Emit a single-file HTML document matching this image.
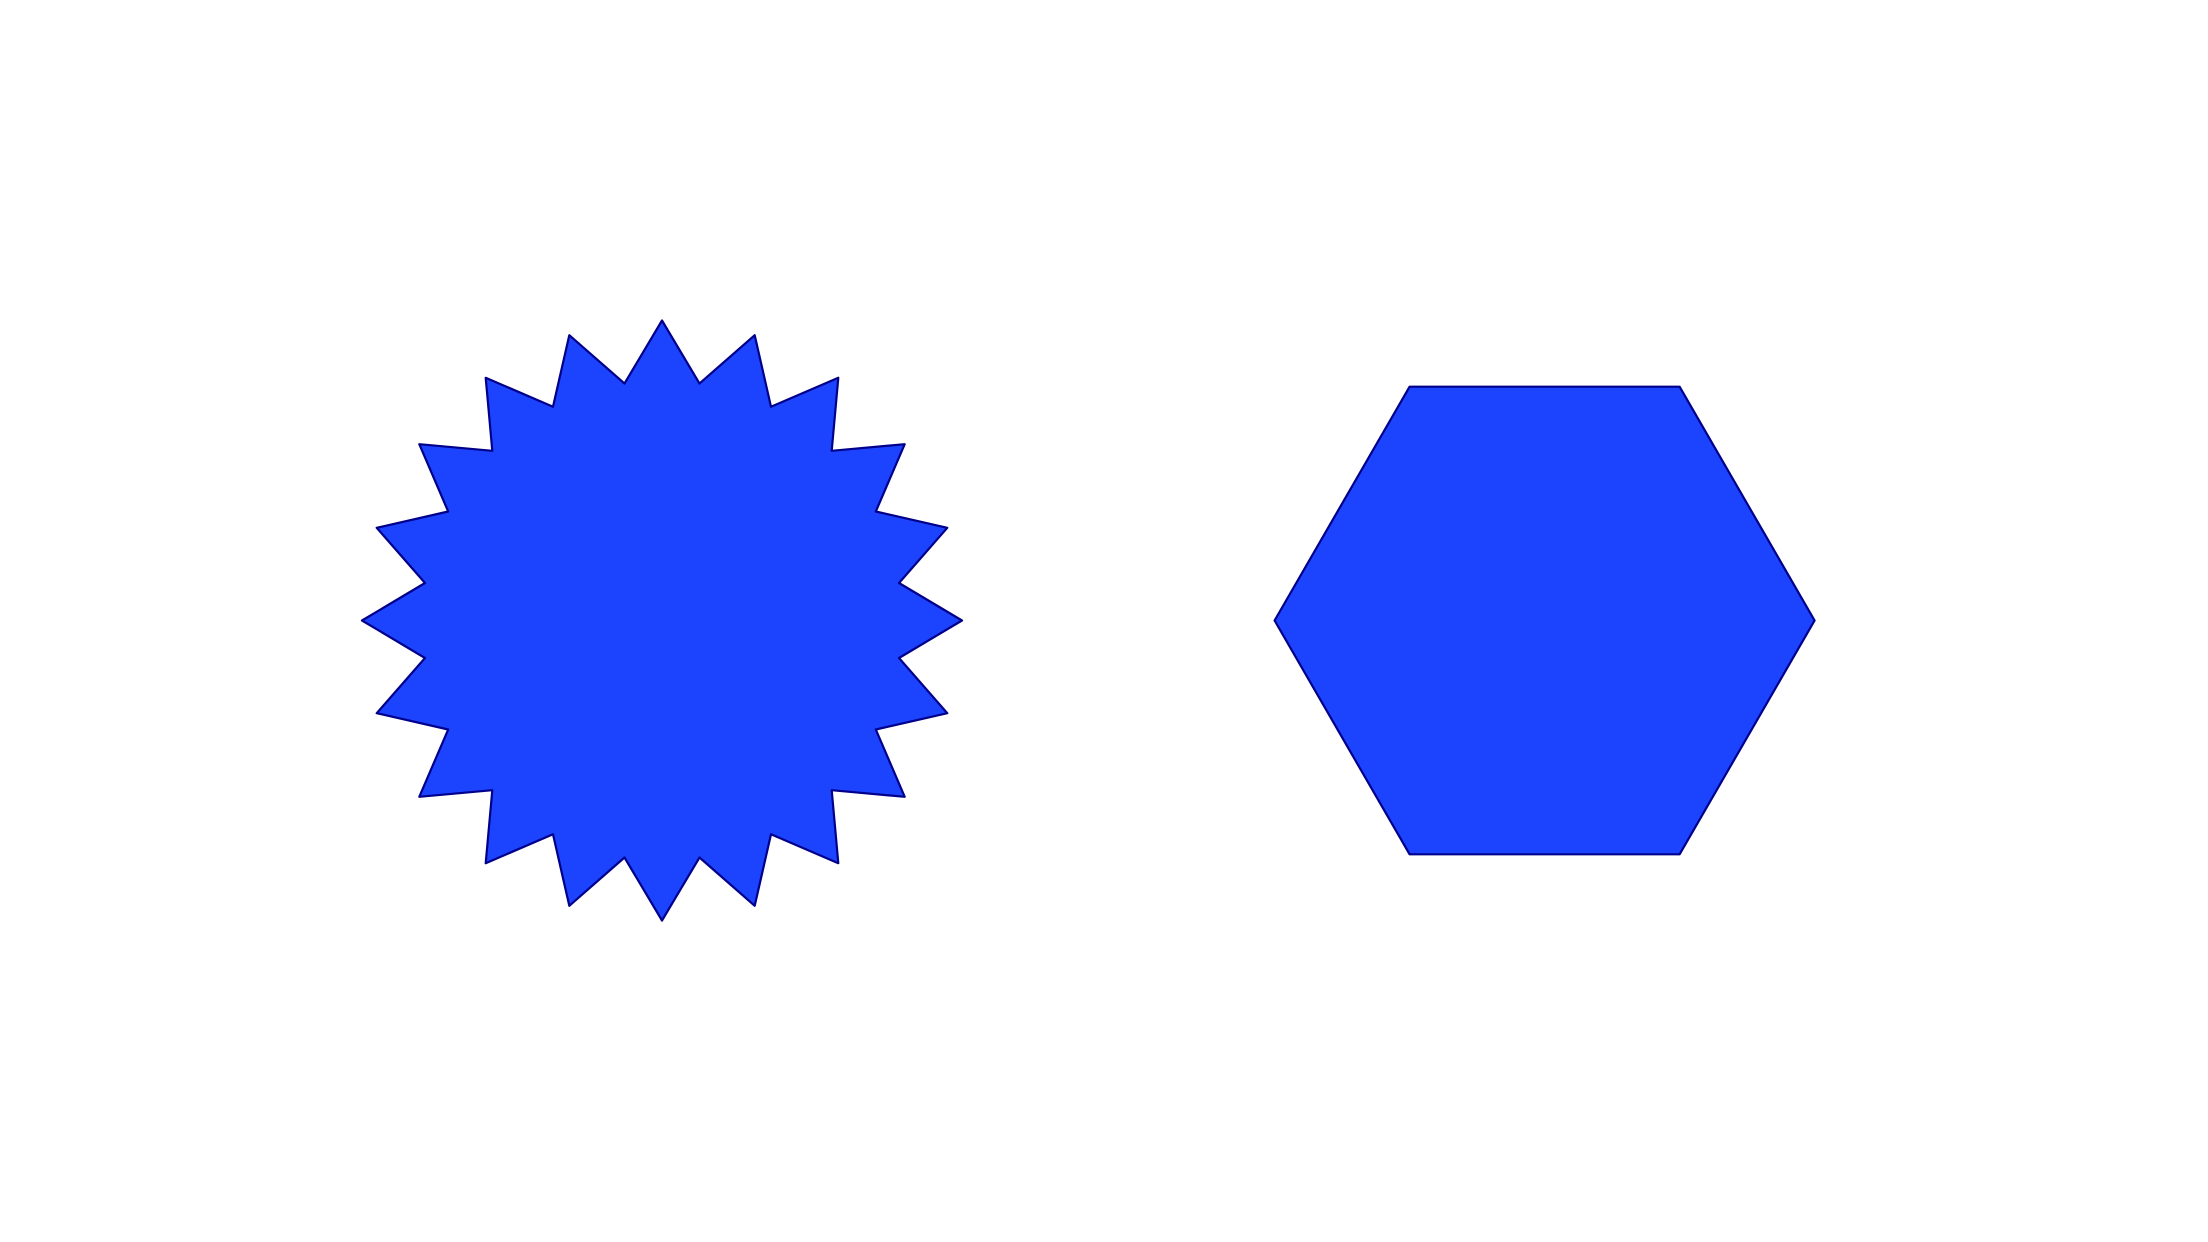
<!DOCTYPE html>
<html><head><meta charset="utf-8"><style>html,body{margin:0;padding:0;background:#fff}svg{display:block}</style></head>
<body>
<svg id="chart" width="2208" height="1242" viewBox="0 0 2208 1242" xmlns="http://www.w3.org/2000/svg">
<rect width="2208" height="1242" fill="#fff"/>
</svg>
<script>
const shapeNames = ["star-20", "hexagon"];
const shapePoints = [20, 6];
const shapeInnerRatio = [0.8, 1];
const svg = document.getElementById('chart');
const centers = [[662, 620.5], [1544.6, 620.5]];
const radii = [300, 270];
const startAngles = [-Math.PI/2, 0];
for (let s = 0; s < shapeNames.length; s++) {
  const n = shapePoints[s], pts = [];
  const [cx, cy] = centers[s];
  if (shapeInnerRatio[s] < 1) {
    for (let i = 0; i < 2*n; i++) {
      const a = startAngles[s] + i*Math.PI/n;
      const r = i%2===0 ? radii[s] : radii[s]*shapeInnerRatio[s];
      pts.push((cx + r*Math.cos(a)).toFixed(1) + ',' + (cy + r*Math.sin(a)).toFixed(1));
    }
  } else {
    for (let i = 0; i < n; i++) {
      const a = startAngles[s] + i*2*Math.PI/n;
      pts.push((cx + radii[s]*Math.cos(a)).toFixed(1) + ',' + (cy + radii[s]*Math.sin(a)).toFixed(1));
    }
  }
  const p = document.createElementNS('http://www.w3.org/2000/svg', 'polygon');
  p.setAttribute('points', pts.join(' '));
  p.setAttribute('fill', '#1c44ff');
  p.setAttribute('stroke', '#00008b');
  p.setAttribute('stroke-width', '2.2');
  p.setAttribute('stroke-linejoin', 'round');
  
  
  svg.appendChild(p);
}
</script>
</body></html>
